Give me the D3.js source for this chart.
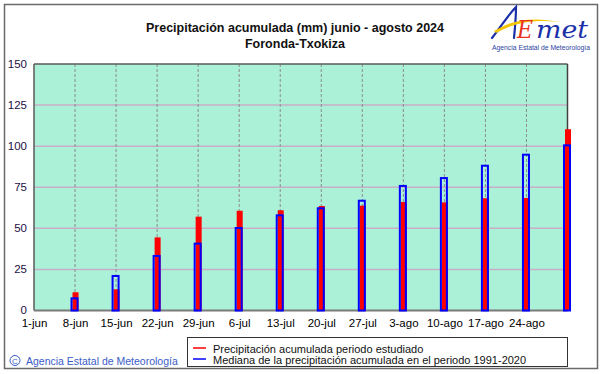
<!DOCTYPE html>
<html><head><meta charset="utf-8">
<script src="https://cdn.jsdelivr.net/npm/d3@7"></script>
<style>
html,body{margin:0;padding:0;background:#fff;}
svg{display:block;font-family:"Liberation Sans",Arial,sans-serif;}
</style></head>
<body>
<script>
const dateLabels = ["1-jun","8-jun","15-jun","22-jun","29-jun","6-jul","13-jul","20-jul","27-jul","3-ago","10-ago","17-ago","24-ago","31-ago"];
const barDates = ["8-jun","15-jun","22-jun","29-jun","6-jul","13-jul","20-jul","27-jul","3-ago","10-ago","17-ago","24-ago","31-ago"];
const observed = [11.1, 12.9, 44.5, 57.1, 60.7, 61.0, 63.6, 63.8, 66.0, 65.8, 68.3, 68.5, 110.3];
const median = [7.4, 21.0, 33.2, 40.7, 50.2, 57.9, 62.2, 66.8, 75.8, 80.6, 88.1, 94.8, 100.5];
const yTicks = [0, 25, 50, 75, 100, 125, 150];
const titleLines = ["Precipitación acumulada (mm) junio - agosto 2024", "Foronda-Txokiza"];
const legendItems = ["Precipitación acumulada periodo estudiado", "Mediana de la precipitación acumulada en el periodo 1991-2020"];

const W = 601, H = 374;
const svg = d3.select("body").append("svg").attr("width", W).attr("height", H);

// outer frame
svg.append("rect").attr("x", 4.5).attr("y", 4.5).attr("width", 593).attr("height", 364)
  .attr("fill", "#fff").attr("stroke", "#6a6a6a").attr("stroke-width", 1.5);

const L = 34, R = 567.5, T = 64, B = 310.5;
const x = d3.scalePoint().domain(dateLabels).range([L, R]);
const y = d3.scaleLinear().domain([0, 150]).range([B, T]);

// plot background
svg.append("rect").attr("x", L).attr("y", T).attr("width", R - L).attr("height", B - T).attr("fill", "#aaf1d8");

// horizontal grid
svg.append("g").selectAll("line").data(yTicks.filter(d => d > 0 && d < 150)).join("line")
  .attr("x1", L).attr("x2", R).attr("y1", d => y(d)).attr("y2", d => y(d))
  .attr("stroke", "#c8aec6").attr("stroke-width", 1.5);

// vertical dashed grid
svg.append("g").selectAll("line").data(dateLabels.slice(1, -1)).join("line")
  .attr("x1", d => x(d)).attr("x2", d => x(d)).attr("y1", T).attr("y2", B)
  .attr("stroke", "#8c8c8c").attr("stroke-width", 1).attr("stroke-dasharray", "3,2");

// plot border
svg.append("line").attr("x1", L).attr("x2", R).attr("y1", T).attr("y2", T).attr("stroke", "#5a5a5a").attr("stroke-width", 1.5);
svg.append("line").attr("x1", L).attr("x2", L).attr("y1", T).attr("y2", B).attr("stroke", "#5a5a5a").attr("stroke-width", 1.5);
svg.append("line").attr("x1", R).attr("x2", R).attr("y1", T).attr("y2", B).attr("stroke", "#404040").attr("stroke-width", 1.5);
svg.append("line").attr("x1", L).attr("x2", R).attr("y1", B).attr("y2", B).attr("stroke", "#7a7a7a").attr("stroke-width", 2);

// bars
const bars = svg.append("g");
bars.selectAll("rect.obs").data(barDates).join("rect").attr("class", "obs")
  .attr("x", d => x(d) - 2.5).attr("width", 6)
  .attr("y", (d, i) => y(observed[i])).attr("height", (d, i) => y(0) - y(observed[i]))
  .attr("fill", "#ff0000");
bars.selectAll("rect.med").data(barDates).join("rect").attr("class", "med")
  .attr("x", d => x(d) - 3.5).attr("width", 6)
  .attr("y", (d, i) => y(median[i])).attr("height", (d, i) => y(0) - y(median[i]))
  .attr("fill", "none").attr("stroke", "#0000ff").attr("stroke-width", 2);

// y axis labels
const yAxis = d3.axisLeft(y).tickValues(yTicks).tickSize(0).tickPadding(0);
const gy = svg.append("g").attr("transform", `translate(${27},0)`).call(yAxis);
gy.select(".domain").remove();
gy.selectAll("text").attr("font-size", 11.5).attr("fill", "#1c0f45").attr("font-family", "Liberation Sans, Arial, sans-serif").attr("dy", "0.3em");

// x axis labels
const xAxis = d3.axisBottom(x).tickValues(dateLabels.slice(0, -1)).tickSize(0).tickPadding(0);
const gx = svg.append("g").attr("transform", `translate(0,${319})`).call(xAxis);
gx.select(".domain").remove();
gx.selectAll("text").attr("font-size", 11.5).attr("fill", "#000").attr("font-family", "Liberation Sans, Arial, sans-serif").attr("dy", "0.71em");

// title
svg.append("g").selectAll("text").data(titleLines).join("text")
  .attr("x", 295).attr("y", (d, i) => 32 + i * 16).attr("text-anchor", "middle")
  .attr("font-size", 12.5).attr("font-weight", "bold").attr("fill", "#111").text(d => d);

// legend
svg.append("rect").attr("x", 187.5).attr("y", 337.5).attr("width", 380).attr("height", 29)
  .attr("fill", "#fff").attr("stroke", "#333").attr("stroke-width", 1);
const legColors = ["#ff0000", "#0000ff"];
const lg = svg.append("g").selectAll("g").data(legendItems).join("g")
  .attr("transform", (d, i) => `translate(0,${348 + i * 11})`);
lg.append("line").attr("x1", 193).attr("x2", 206).attr("y1", 0).attr("y2", 0)
  .attr("stroke", (d, i) => legColors[i]).attr("stroke-width", 1.5);
lg.append("text").attr("x", 213).attr("y", 4.5).attr("font-size", 11).attr("fill", "#111").text(d => d);

// copyright
svg.append("circle").attr("cx", 15).attr("cy", 360.5).attr("r", 5).attr("fill", "none").attr("stroke", "#3a5cc8").attr("stroke-width", 1);
svg.append("text").attr("x", 15).attr("y", 363.5).attr("text-anchor", "middle").attr("font-size", 8).attr("fill", "#3a5cc8").text("C");
svg.append("text").attr("x", 26).attr("y", 365).attr("font-size", 10.5).attr("fill", "#3a5cc8").text("Agencia Estatal de Meteorología");

// logo
const logo = svg.append("g");
logo.append("path").attr("d", "M492,38 C500,28 508,15 516,7 C516,18 515,28 514,38")
  .attr("fill", "none").attr("stroke", "#1a2fa8").attr("stroke-width", 2.2).attr("stroke-linecap", "round");
logo.append("path").attr("d", "M494,31 C510,21 530,16 560,22 C535,19 515,22 496,33 Z")
  .attr("fill", "#f5c400");
logo.append("text").attr("x", 517).attr("y", 38).attr("font-size", 24).attr("font-style", "italic")
  .attr("font-family", "DejaVu Serif, serif").attr("fill", "#e8331e").attr("textLength", 16).attr("lengthAdjust", "spacingAndGlyphs").text("E");
logo.append("text").attr("x", 536).attr("y", 38).attr("font-size", 24).attr("font-style", "italic")
  .attr("font-family", "DejaVu Serif, serif").attr("fill", "#1a2fa8").attr("textLength", 52).attr("lengthAdjust", "spacingAndGlyphs").text("met");
logo.append("text").attr("x", 541).attr("y", 50).attr("text-anchor", "middle").attr("font-size", 7)
  .attr("fill", "#2a3fa0").attr("textLength", 98).attr("lengthAdjust", "spacingAndGlyphs").text("Agencia Estatal de Meteorología");
</script>
</body></html>
